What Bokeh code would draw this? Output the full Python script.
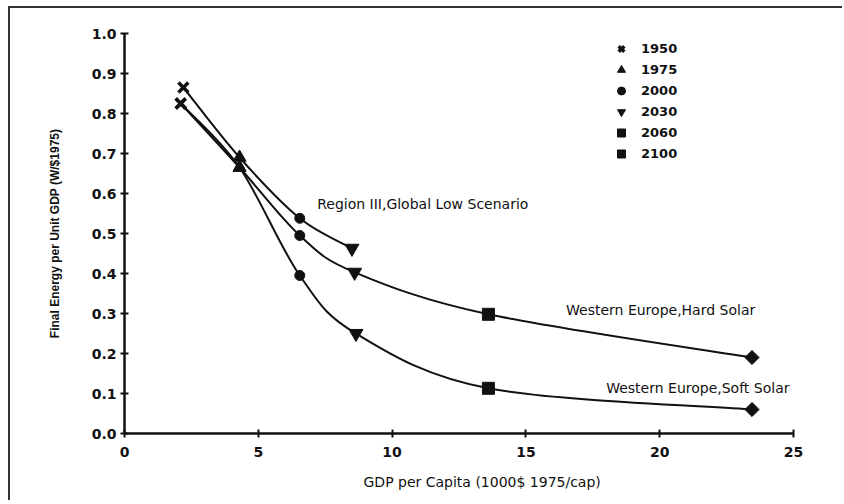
import math
from bokeh.plotting import figure
from bokeh.models import Range1d, FixedTicker, PrintfTickFormatter, Label, Legend, LegendItem, Title
from bokeh.embed import file_html
from bokeh.resources import INLINE

# ---- data ----
region3_x = [2.2, 4.3, 6.55, 8.5]
region3_y = [0.865, 0.69, 0.538, 0.463]
hard_x = [2.1, 4.3, 6.55, 8.6, 13.6, 23.45]
hard_y = [0.825, 0.665, 0.495, 0.403, 0.298, 0.19]
soft_x = [2.1, 4.3, 6.55, 8.65, 13.6, 23.45]
soft_y = [0.825, 0.665, 0.395, 0.25, 0.113, 0.06]
years = ["1950", "1975", "2000", "2030", "2060", "2100"]
year_markers = ["x", "triangle", "circle", "inverted_triangle", "square", "square"]
x_ticks = [0, 5, 10, 15, 20, 25]
y_ticks = [0.0, 0.1, 0.2, 0.3, 0.4, 0.5, 0.6, 0.7, 0.8, 0.9, 1.0]
labels = ["Region III,Global Low Scenario", "Western Europe,Hard Solar", "Western Europe,Soft Solar"]
label_x = [7.2, 16.5, 18.0]
label_y = [0.575, 0.308, 0.115]

INK = "#111111"
FONT = "DejaVu Sans"

p = figure(width=834, height=494, output_backend="svg", toolbar_location=None,
           x_range=Range1d(0, 25), y_range=Range1d(0, 1.0),
           min_border_left=114, min_border_right=51, min_border_top=25, min_border_bottom=69)
p.styles = {"margin-left": "8px", "margin-top": "6px",
            "border-left": "2px solid #333333", "border-top": "2px solid #333333"}
p.outline_line_color = None
p.grid.visible = False
p.background_fill_color = "white"
p.border_fill_color = "white"

for ax in (p.xaxis[0], p.yaxis[0]):
    ax.axis_line_width = 2.5
    ax.axis_line_color = INK
    ax.major_tick_line_width = 2
    ax.major_tick_line_color = INK
    ax.major_tick_in = 4
    ax.major_tick_out = 4
    ax.minor_tick_line_color = None
    ax.major_label_text_font = FONT
    ax.major_label_text_font_style = "bold"
    ax.major_label_text_font_size = "14px"
    ax.major_label_text_color = INK

p.xaxis.ticker = FixedTicker(ticks=x_ticks)
p.xaxis.formatter = PrintfTickFormatter(format="%d")
p.xaxis.major_label_standoff = 9
p.yaxis.ticker = FixedTicker(ticks=y_ticks)
p.yaxis.formatter = PrintfTickFormatter(format="%.1f")
p.yaxis.major_label_standoff = 4

p.yaxis.axis_label = "Final Energy per Unit GDP (W/$1975)"
p.yaxis.axis_label_text_font = "Liberation Sans"
p.yaxis.axis_label_text_font_style = "bold"
p.yaxis.axis_label_text_font_size = "12px"
p.yaxis.axis_label_text_color = INK
p.yaxis.axis_label_standoff = 27


def bezier_parts(xs, ys):
    n = len(xs)
    parts = dict(x0=[], y0=[], x1=[], y1=[], cx0=[], cy0=[], cx1=[], cy1=[])
    for i in range(n - 1):
        ip = max(i - 1, 0)
        inn = min(i + 2, n - 1)
        parts["x0"].append(xs[i]); parts["y0"].append(ys[i])
        parts["x1"].append(xs[i + 1]); parts["y1"].append(ys[i + 1])
        parts["cx0"].append(xs[i] + (xs[i + 1] - xs[ip]) / 6)
        parts["cy0"].append(ys[i] + (ys[i + 1] - ys[ip]) / 6)
        parts["cx1"].append(xs[i + 1] - (xs[inn] - xs[i]) / 6)
        parts["cy1"].append(ys[i + 1] - (ys[inn] - ys[i]) / 6)
    return parts


for xs, ys in ((region3_x, region3_y), (hard_x, hard_y), (soft_x, soft_y)):
    b = bezier_parts(xs, ys)
    p.bezier(line_color=INK, line_width=2, **b)

sizes = [14, 13, 10, 14, 12, 10]
angles = [0, 0, 0, 0, 0, math.pi / 4]
items = []
for k, (yr, mk) in enumerate(zip(years, year_markers)):
    px, py = [], []
    for xs, ys in ((region3_x, region3_y), (hard_x, hard_y), (soft_x, soft_y)):
        if k < len(xs):
            px.append(xs[k]); py.append(ys[k])
    r = p.scatter(px, py, marker=mk, size=sizes[k], angle=angles[k], fill_color=INK, line_color=INK,
                  line_width=3.5 if mk == "x" else 1)
    items.append(LegendItem(label=yr, renderers=[r]))

legend = Legend(items=items, location=(487, 269), padding=0, margin=0, spacing=0,
                glyph_width=20, glyph_height=21, label_height=21, label_standoff=10,
                label_text_font=FONT, label_text_font_size="13px", label_text_font_style="bold",
                label_text_color=INK, border_line_color=None, background_fill_alpha=0)
p.add_layout(legend)

for t, lx, ly in zip(labels, label_x, label_y):
    p.add_layout(Label(x=lx, y=ly, text=t, text_font=FONT, text_font_size="14px",
                       text_color=INK, text_baseline="middle", text_align="left"))

xtitle = Title(text="GDP per Capita (1000$ 1975/cap)", align="left", offset=239, standoff=24,
               text_font=FONT, text_font_size="14px", text_font_style="normal", text_color=INK)
p.add_layout(xtitle, "below")

open("out.html", "w").write(file_html(p, INLINE))
